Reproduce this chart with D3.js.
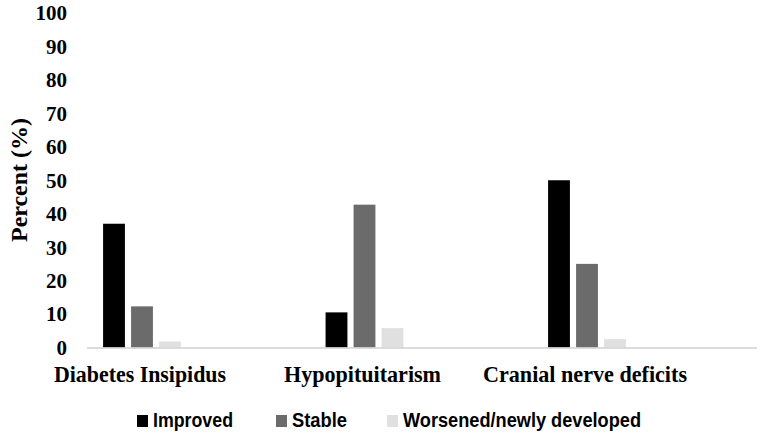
<!DOCTYPE html>
<html>
<head>
<meta charset="utf-8">
<script src="https://cdn.jsdelivr.net/npm/d3@7"></script>
<style>
  body { margin: 0; background: #fff; }
</style>
</head>
<body>
<script>
var categories = ["Diabetes Insipidus", "Hypopituitarism", "Cranial nerve deficits"];
var seriesNames = ["Improved", "Stable", "Worsened/newly developed"];
var improved = [37, 10.5, 50];
var stable = [12.3, 42.7, 25];
var worsened = [1.8, 5.8, 2.5];
var yTicks = [0, 10, 20, 30, 40, 50, 60, 70, 80, 90, 100];

var colors = ["#000000", "#6b6b6b", "#e0e0e0"];
var values = [improved, stable, worsened];

// widths of the text as drawn in the picture
var catWidths = [172, 157, 204];
var legendWidths = [80, 55, 238];

var canvas = d3.select("body")
    .append("svg")
    .attr("width", 761)
    .attr("height", 434);

var y = d3.scaleLinear()
    .domain([0, 100])
    .range([347.5, 13]);

var x = d3.scaleBand()
    .domain(categories)
    .range([30.75, 698.25]);

var xs = d3.scaleBand()
    .domain(seriesNames)
    .range([-42, 42])
    .paddingInner(0.22)
    .paddingOuter(0.11);

// y tick labels, no axis line
canvas.append("g")
    .selectAll("text")
    .data(yTicks)
    .enter()
        .append("text")
        .attr("x", 67)
        .attr("y", function (d) { return y(d); })
        .attr("dy", "0.35em")
        .attr("text-anchor", "end")
        .style("font-family", "'Liberation Serif', serif")
        .style("font-weight", "bold")
        .style("font-size", "21px")
        .text(function (d) { return d; });

canvas.append("text")
    .attr("transform", "translate(27," + 180 + ") rotate(-90)")
    .attr("text-anchor", "middle")
    .attr("textLength", 124)
    .attr("lengthAdjust", "spacingAndGlyphs")
    .style("font-family", "'Liberation Serif', serif")
    .style("font-weight", "bold")
    .style("font-size", "23px")
    .text("Percent (%)");

// bars
seriesNames.forEach(function (s, i) {
    canvas.append("g")
        .selectAll("rect")
        .data(values[i])
        .enter()
            .append("rect")
            .attr("x", function (d, j) { return x(categories[j]) + x.bandwidth() / 2 + xs(s); })
            .attr("y", function (d) { return y(d); })
            .attr("width", xs.bandwidth())
            .attr("height", function (d) { return y(0) - y(d); })
            .attr("fill", colors[i]);
});

// baseline
canvas.append("line")
    .attr("x1", 87)
    .attr("x2", 757)
    .attr("y1", y(0) + 0.5)
    .attr("y2", y(0) + 0.5)
    .attr("stroke", "#d0d0d0")
    .attr("stroke-width", 1.5);

canvas.append("g")
    .selectAll("text")
    .data(categories)
    .enter()
        .append("text")
        .attr("x", function (d) { return x(d) + x.bandwidth() / 2 - 2; })
        .attr("y", 382)
        .attr("text-anchor", "middle")
        .attr("textLength", function (d, i) { return catWidths[i]; })
        .attr("lengthAdjust", "spacingAndGlyphs")
        .style("font-family", "'Liberation Serif', serif")
        .style("font-weight", "bold")
        .style("font-size", "24px")
        .text(function (d) { return d; });

// legend
var legendX = [137, 276, 387];
var legend = canvas.append("g")
    .selectAll("g")
    .data(seriesNames)
    .enter()
        .append("g")
        .attr("transform", function (d, i) { return "translate(" + legendX[i] + ",415)"; });

legend.append("rect")
    .attr("width", 11)
    .attr("height", 12)
    .attr("fill", function (d, i) { return colors[i]; });

legend.append("text")
    .attr("x", 16)
    .attr("y", 12)
    .attr("textLength", function (d, i) { return legendWidths[i]; })
    .attr("lengthAdjust", "spacingAndGlyphs")
    .style("font-family", "'Liberation Sans', sans-serif")
    .style("font-weight", "bold")
    .style("font-size", "20px")
    .text(function (d) { return d; });
</script>
</body>
</html>
